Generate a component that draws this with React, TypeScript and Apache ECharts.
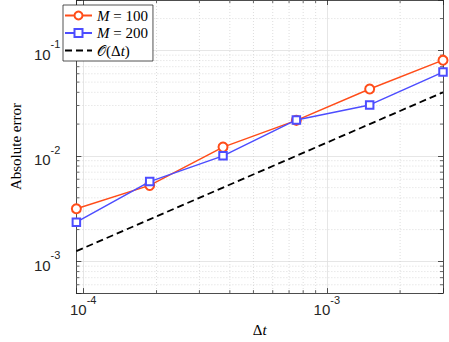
import React, { useEffect, useRef } from "react";
import * as echarts from "echarts";

// ---- data ----
const dt = [9.375e-5, 1.875e-4, 3.75e-4, 7.5e-4, 1.5e-3, 3e-3];
const errM100 = [3.15e-3, 5.25e-3, 0.0121, 0.0217, 0.043, 0.0807];
const errM200 = [2.35e-3, 5.7e-3, 0.01, 0.0219, 0.0304, 0.0622];
const orderRef = [1.25e-3, 2.5e-3, 5e-3, 0.01, 0.02, 0.04];
const seriesNames = ["M100", "M200", "O"];
const xRange = [9.375e-5, 3e-3];
const yRange = [5e-4, 0.3];
const xMinorTicks = [2e-4, 3e-4, 4e-4, 5e-4, 6e-4, 7e-4, 8e-4, 9e-4, 2e-3];
const yMinorTicks = [
  6e-4, 7e-4, 8e-4, 9e-4,
  2e-3, 3e-3, 4e-3, 5e-3, 6e-3, 7e-3, 8e-3, 9e-3,
  2e-2, 3e-2, 4e-2, 5e-2, 6e-2, 7e-2, 8e-2, 9e-2,
  2e-1,
];

const AX = "#262626";
const SERIF = "Liberation Serif";
const SANS = "Liberation Sans";

const supLabel = (v: number) => {
  const e = Math.log10(v);
  const r = Math.round(e);
  if (Math.abs(e - r) > 1e-6) return "";
  return `{b|10}{s|${r}}`;
};

const labelRich = {
  b: { fontSize: 15, lineHeight: 15, fontFamily: SANS, color: "#262626", padding: [8, 0, 0, 0] },
  s: { fontSize: 11, lineHeight: 11, fontFamily: SANS, color: "#262626", padding: [0, 0, 12, 0] },
};

const legendText: Record<string, string> = {
  M100: "{i|M} = 100",
  M200: "{i|M} = 200",
  O: "{c|𝒪}(Δ{i|t})",
};

export default function App() {
  const ref = useRef<HTMLDivElement>(null);
  useEffect(() => {
    if (!ref.current) return;
    const chart = echarts.init(ref.current, undefined, { renderer: "svg" });

    const baseX = {
      type: "log" as const,
      logBase: 10,
      min: xRange[0],
      max: xRange[1],
      axisLine: { show: true, onZero: false, lineStyle: { color: AX, width: 0.8 } },
      axisTick: { show: true, inside: true, length: 5, lineStyle: { color: AX, width: 0.8 } },
    };
    const baseY = {
      type: "log" as const,
      logBase: 10,
      min: yRange[0],
      max: yRange[1],
      axisLine: { show: true, onZero: false, lineStyle: { color: AX, width: 0.8 } },
      axisTick: { show: true, inside: true, length: 5, lineStyle: { color: AX, width: 0.8 } },
    };

    const minorStyle = { stroke: "#cfcfcf", lineWidth: 0.7, lineDash: [1, 2] };
    const tickStyle = { stroke: AX, lineWidth: 0.7 };

    chart.setOption({
      animation: false,
      backgroundColor: "#ffffff",
      grid: { left: 56, right: 6, top: 0, bottom: 44, containLabel: false },
      xAxis: [
        {
          ...baseX,
          position: "bottom",
          name: "{r|Δ}{i|t}",
          nameLocation: "middle",
          nameGap: 27,
          nameTextStyle: {
            rich: {
              r: { fontFamily: SERIF, fontSize: 15, color: "#000" },
              i: { fontFamily: SERIF, fontSize: 15, fontStyle: "italic", color: "#000" },
            },
          },
          axisLabel: { show: true, margin: 5, formatter: supLabel, rich: labelRich },
          splitLine: { show: true, lineStyle: { color: "#e0e0e0", width: 0.8 } },
        },
        {
          ...baseX,
          position: "top",
          axisLabel: { show: false },
          splitLine: { show: false },
        },
      ],
      yAxis: [
        {
          ...baseY,
          position: "left",
          name: "Absolute error",
          nameLocation: "middle",
          nameGap: 47,
          nameTextStyle: { fontFamily: SERIF, fontSize: 15, color: "#000" },
          axisLabel: { show: true, margin: 16, formatter: supLabel, rich: labelRich },
          splitLine: { show: true, lineStyle: { color: "#e0e0e0", width: 0.8 } },
        },
        {
          ...baseY,
          position: "right",
          axisLabel: { show: false },
          splitLine: { show: false },
        },
      ],
      legend: {
        data: [
          { name: seriesNames[0] },
          { name: seriesNames[1] },
          { name: seriesNames[2], itemStyle: { opacity: 0 } },
        ],
        orient: "vertical",
        left: 63,
        top: 5,
        padding: [3, 5, 3, 1],
        itemGap: 2.5,
        itemWidth: 27,
        itemHeight: 10,
        backgroundColor: "#ffffff",
        borderColor: AX,
        borderWidth: 0.8,
        borderRadius: 0,
        formatter: (name: string) => legendText[name] ?? name,
        textStyle: {
          fontFamily: SERIF,
          fontSize: 15,
          lineHeight: 15,
          color: "#000",
          rich: {
            i: { fontFamily: SERIF, fontSize: 15, lineHeight: 15, fontStyle: "italic", color: "#000" },
            c: { fontFamily: "DejaVu Serif", fontSize: 14, lineHeight: 15, color: "#000" },
          },
        },
      },
      series: [
        {
          type: "custom",
          silent: true,
          clip: false,
          z: 1,
          xAxisIndex: 0,
          yAxisIndex: 0,
          data: xMinorTicks.map((v) => [v, yRange[0]]),
          renderItem: (params: any, api: any) => {
            const cs = params.coordSys;
            const x = api.coord([api.value(0), api.value(1)])[0];
            const top = cs.y;
            const bot = cs.y + cs.height;
            return {
              type: "group",
              children: [
                { type: "line", shape: { x1: x, y1: top, x2: x, y2: bot }, style: minorStyle },
                { type: "line", shape: { x1: x, y1: bot, x2: x, y2: bot - 3 }, style: tickStyle },
                { type: "line", shape: { x1: x, y1: top, x2: x, y2: top + 3 }, style: tickStyle },
              ],
            };
          },
        },
        {
          type: "custom",
          silent: true,
          clip: false,
          z: 1,
          xAxisIndex: 0,
          yAxisIndex: 0,
          data: yMinorTicks.map((v) => [xRange[0], v]),
          renderItem: (params: any, api: any) => {
            const cs = params.coordSys;
            const y = api.coord([api.value(0), api.value(1)])[1];
            const l = cs.x;
            const r = cs.x + cs.width;
            return {
              type: "group",
              children: [
                { type: "line", shape: { x1: l, y1: y, x2: r, y2: y }, style: minorStyle },
                { type: "line", shape: { x1: l, y1: y, x2: l + 3, y2: y }, style: tickStyle },
                { type: "line", shape: { x1: r, y1: y, x2: r - 3, y2: y }, style: tickStyle },
              ],
            };
          },
        },
        {
          name: "M100",
          type: "line",
          z: 3,
          data: dt.map((x, i) => [x, errM100[i]]),
          color: "#ff4d1a",
          lineStyle: { color: "#ff4d1a", width: 1.5 },
          symbol: "emptyCircle",
          symbolSize: 9,
          itemStyle: { color: "#ff4d1a", borderWidth: 1.5 },
        },
        {
          name: "M200",
          type: "line",
          z: 4,
          data: dt.map((x, i) => [x, errM200[i]]),
          color: "#4d4dff",
          lineStyle: { color: "#4d4dff", width: 1.5 },
          symbol: "emptyRect",
          symbolSize: 7.5,
          itemStyle: { color: "#4d4dff", borderWidth: 1.5 },
        },
        {
          name: "O",
          type: "line",
          z: 2,
          data: dt.map((x, i) => [x, orderRef[i]]),
          color: "#000000",
          lineStyle: { color: "#000000", width: 1.8, type: [7, 4] },
          symbol: "none",
          showSymbol: false,
        },
      ],
    });
    return () => chart.dispose();
  }, []);
  return (
    <div
      ref={ref}
      style={{ position: "fixed", left: 0, top: 0, width: 449, height: 342, background: "#fff" }}
    />
  );
}
